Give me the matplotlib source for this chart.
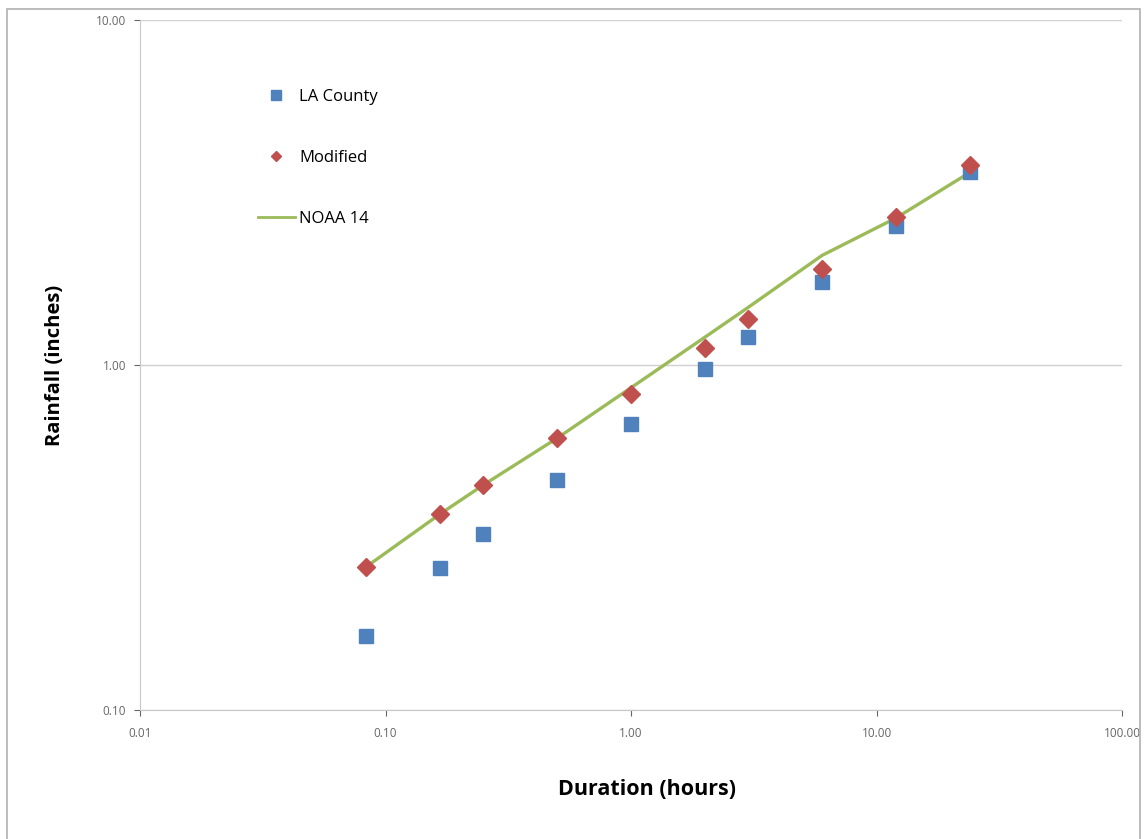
import numpy as np
import matplotlib.pyplot as plt
from matplotlib.patches import Rectangle
from matplotlib.lines import Line2D

# durations (hours): 5, 10, 15, 30 min, 1, 2, 3, 6, 12, 24 hr
duration = [0.0833, 0.1667, 0.25, 0.5, 1.0, 2.0, 3.0, 6.0, 12.0, 24.0]
la_county = [0.164, 0.258, 0.324, 0.464, 0.675, 0.974, 1.205, 1.74, 2.53, 3.63]
modified = [0.26, 0.37, 0.449, 0.614, 0.824, 1.12, 1.36, 1.90, 2.69, 3.80]
noaa14 = [0.26, 0.37, 0.449, 0.614, 0.86, 1.205, 1.47, 2.08, 2.67, 3.62]

x_ticks = [0.01, 0.1, 1, 10, 100]
y_ticks = [0.1, 1, 10]

BLUE = "#4F81BD"
RED = "#C0504D"
GREEN = "#9BBB59"

plt.rcParams["font.family"] = ["Open Sans", "DejaVu Sans"]

fig = plt.figure(figsize=(11.45, 8.39), dpi=100)
ax = fig.add_axes([0.1223, 0.1537, 0.98 - 0.1223, 0.976 - 0.1537])

ax.plot(duration, noaa14, color=GREEN, lw=2.4, zorder=2)
ax.plot(duration, la_county, ls="none", marker="s", ms=10, color=BLUE, zorder=3)
ax.plot(duration, modified, ls="none", marker="D", ms=9, color=RED, zorder=4)

ax.set_xscale("log")
ax.set_yscale("log")
ax.set_xlim(0.01, 100)
ax.set_ylim(0.1, 10)
ax.set_xticks(x_ticks)
ax.set_yticks(y_ticks)
ax.xaxis.set_major_formatter(plt.FuncFormatter(lambda v, p: f"{v:.2f}"))
ax.yaxis.set_major_formatter(plt.FuncFormatter(lambda v, p: f"{v:.2f}"))
ax.minorticks_off()
ax.tick_params(axis="both", labelsize=8.5, colors="#666666", length=4, width=0.8)
ax.tick_params(axis="x", pad=8)
ax.tick_params(axis="y", pad=6)

ax.grid(axis="y", color="#d0d0d0", lw=1)
for s in ["top", "right"]:
    ax.spines[s].set_visible(False)
for s in ["left", "bottom"]:
    ax.spines[s].set_color("#c8c8c8")

ax.set_xlabel("Duration (hours)", fontsize=15.5, fontweight="bold", labelpad=28)
ax.xaxis.label.set_x(0.516)
ax.set_ylabel("Rainfall (inches)", fontsize=14.5, fontweight="bold", labelpad=22)

handles = [
    Line2D([], [], ls="none", marker="s", ms=7, color=BLUE),
    Line2D([], [], ls="none", marker="D", ms=5, color=RED),
    Line2D([], [], color=GREEN, lw=2),
]
leg = ax.legend(handles, ["LA County", "Modified", "NOAA 14"],
                loc="upper left", bbox_to_anchor=(0.105, 0.922),
                frameon=False, fontsize=12, labelspacing=2.7,
                handlelength=2.2, handletextpad=0.25)

# outer chart frame
fig.patches.append(Rectangle((7 / 1145, -0.01), 1133 / 1145, 1 - 9 / 839 + 0.01,
                             transform=fig.transFigure, fill=False,
                             edgecolor="#b0b0b0", lw=1.2))

fig.savefig("out.png", dpi=100)
